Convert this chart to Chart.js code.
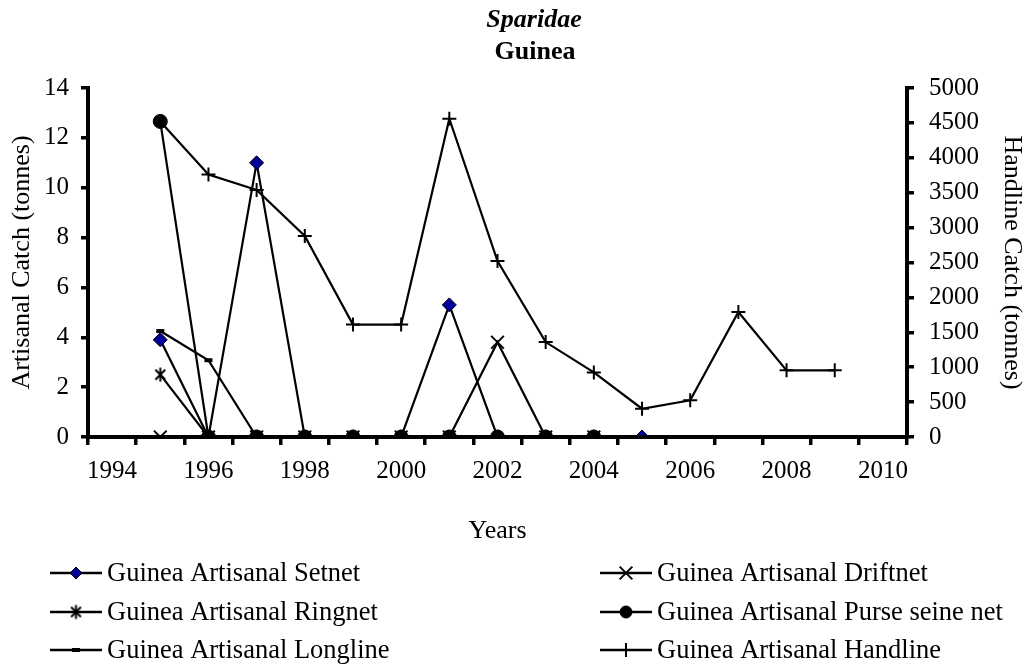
<!DOCTYPE html>
<html>
<head>
<meta charset="utf-8">
<script src="https://cdn.jsdelivr.net/npm/chart.js@4/dist/chart.umd.min.js"></script>
<style>
html,body{margin:0;padding:0;background:#fff;}
#wrap{width:1025px;height:669px;position:relative;}
</style>
</head>
<body>
<div id="wrap"><canvas id="c"></canvas></div>
<script>
const years = ['1994','1995','1996','1997','1998','1999','2000','2001','2002','2003','2004','2005','2006','2007','2008','2009','2010'];
const setnet   = [null, 3.9, 0, 11.0, 0, 0, 0, 5.3, 0, 0, 0, 0, null, null, null, null, null];
const driftnet = [null, 0, 0, 0, 0, 0, 0, 0, 3.8, 0, 0, null, null, null, null, null, null];
const ringnet  = [null, 2.5, 0, 0, 0, 0, 0, 0, 0, 0, 0, null, null, null, null, null, null];
const purseSeine = [null, 12.66, 0, 0, 0, 0, 0, 0, 0, 0, 0, null, null, null, null, null, null];
const longline = [null, 4.25, 3.08, 0, 0, 0, 0, 0, 0, 0, 0, 0, 0, 0, 0, 0, null];
const handline = [null, 4520, 3760, 3540, 2880, 1610, 1610, 4560, 2520, 1360, 925, 405, 525, 1790, 955, 955, null];
const leftTicks = [0, 2, 4, 6, 8, 10, 12, 14];
const rightTicks = [0, 500, 1000, 1500, 2000, 2500, 3000, 3500, 4000, 4500, 5000];
const seriesNames = ['Guinea Artisanal Setnet','Guinea Artisanal Driftnet','Guinea Artisanal Ringnet','Guinea Artisanal Purse seine net','Guinea Artisanal Longline','Guinea Artisanal Handline'];
const chartTitle = 'Sparidae';
const chartSubtitle = 'Guinea';

const FONT = 'Liberation Serif';

function makeAsterisk(){
  const c = document.createElement('canvas');
  c.width = 17; c.height = 17;
  const g = c.getContext('2d');
  g.strokeStyle = '#000'; g.lineWidth = 2;
  const cx = 8.5, cy = 8.5, r = 7;
  g.beginPath();
  g.moveTo(cx, cy - r); g.lineTo(cx, cy + r);
  const d = r * Math.cos(Math.PI/4);
  g.moveTo(cx - d, cy - d); g.lineTo(cx + d, cy + d);
  g.moveTo(cx - d, cy + d); g.lineTo(cx + d, cy - d);
  g.stroke();
  return c;
}
const asterisk = makeAsterisk();

function ds(label, data, extra){
  return Object.assign({
    label: label, data: data, borderColor: '#000', backgroundColor: '#000',
    borderWidth: 2.2, pointBorderColor: '#000', pointBackgroundColor: '#000',
    pointBorderWidth: 2, pointRadius: 7, pointHoverRadius: 7, tension: 0,
    yAxisID: 'y', spanGaps: false
  }, extra);
}

const datasets = [
  ds(seriesNames[0], setnet, {pointStyle: 'rectRot', pointRadius: 7, pointBackgroundColor: '#000099', pointBorderWidth: 1, order: 6}),
  ds(seriesNames[1], driftnet, {pointStyle: 'crossRot', pointRadius: 9, pointBorderWidth: 2, order: 5}),
  ds(seriesNames[2], ringnet, {pointStyle: asterisk, order: 4}),
  ds(seriesNames[3], purseSeine, {pointStyle: 'circle', pointRadius: 7, pointBorderWidth: 1, order: 3}),
  ds(seriesNames[4], longline, {pointStyle: 'line', pointRadius: 4, pointBorderWidth: 4, order: 2}),
  ds(seriesNames[5], handline, {pointStyle: 'cross', pointRadius: 7, pointBorderWidth: 2, order: 1, yAxisID: 'y1'})
];

const titlePlugin = {
  id: 'customTitle',
  afterDraw(chart){
    const ctx = chart.ctx;
    ctx.save();
    ctx.fillStyle = '#000';
    ctx.textAlign = 'center';
    ctx.textBaseline = 'middle';
    ctx.font = 'italic bold 26px "' + FONT + '"';
    ctx.fillText(chartTitle, 534, 20);
    ctx.font = 'bold 26px "' + FONT + '"';
    ctx.fillText(chartSubtitle, 535, 52);
    ctx.restore();
  }
};

const legendPlugin = {
  id: 'customLegend',
  afterDraw(chart){
    const ctx = chart.ctx;
    const colX = [50, 600];
    const rowY = [573, 612, 650];
    chart.data.datasets.forEach((d, i) => {
      const sx = colX[i % 2];
      const y = rowY[Math.floor(i / 2)];
      ctx.save();
      ctx.strokeStyle = '#000';
      ctx.lineWidth = 2.5;
      ctx.beginPath(); ctx.moveTo(sx, y); ctx.lineTo(sx + 52, y); ctx.stroke();
      ctx.fillStyle = d.pointBackgroundColor;
      ctx.strokeStyle = d.pointBorderColor;
      ctx.lineWidth = d.pointBorderWidth;
      let r = d.pointRadius;
      if (d.pointStyle === 'rectRot') r = 6;
      if (d.pointStyle === 'circle') r = 6;
      if (Chart.helpers && Chart.helpers.drawPoint) {
        Chart.helpers.drawPoint(ctx, {pointStyle: d.pointStyle, rotation: 0, radius: r, borderWidth: d.pointBorderWidth}, sx + 26, y);
      }
      ctx.fillStyle = '#000';
      ctx.font = '26.5px "' + FONT + '"';
      ctx.textBaseline = 'middle';
      ctx.textAlign = 'left';
      ctx.fillText(d.label, sx + 57, y + 1);
      ctx.restore();
    });
  }
};

const tickFont = {family: FONT, size: 25};
const axisTitleFont = {family: FONT, size: 26, lineHeight: 1};

new Chart(document.getElementById('c'), {
  type: 'line',
  data: {labels: years, datasets: datasets},
  plugins: [titlePlugin, legendPlugin],
  options: {
    responsive: true, maintainAspectRatio: false, animation: false,
    devicePixelRatio: 1,
    layout: {padding: {top: 88, left: 0, right: 0, bottom: 0}},
    events: [],
    plugins: {
      legend: {display: false},
      tooltip: {enabled: false},
      title: {display: false},
      subtitle: {display: false}
    },
    scales: {
      x: {
        type: 'category', offset: true,
        grid: {offset: true, drawOnChartArea: false, drawTicks: true, tickLength: 8, lineWidth: 3.5, color: '#000'},
        border: {display: true, width: 4, color: '#000'},
        ticks: {autoSkip: false, maxRotation: 0, minRotation: 0, color: '#000', font: tickFont, padding: 11,
          callback: function(v, i){ return i % 2 === 0 ? this.getLabelForValue(v) : ''; }},
        title: {display: true, text: 'Years', color: '#000', font: axisTitleFont, padding: {top: 0, bottom: 125}},
        afterFit(s){ s.height = 232; }
      },
      y: {
        position: 'left', min: 0, max: 14,
        afterBuildTicks(s){ s.ticks = leftTicks.map(v => ({value: v})); },
        grid: {drawOnChartArea: false, drawTicks: true, tickLength: 7, lineWidth: 3.5, color: '#000'},
        border: {display: true, width: 4, color: '#000'},
        ticks: {color: '#000', font: tickFont, padding: 12},
        title: {display: true, text: 'Artisanal Catch (tonnes)', color: '#000', font: axisTitleFont, padding: {top: 9, bottom: 0}},
        afterFit(s){ s.width = 88; }
      },
      y1: {
        position: 'right', min: 0, max: 5000,
        afterBuildTicks(s){ s.ticks = rightTicks.map(v => ({value: v})); },
        grid: {drawOnChartArea: false, drawTicks: true, tickLength: 7, lineWidth: 3.5, color: '#000'},
        border: {display: true, width: 4, color: '#000'},
        ticks: {color: '#000', font: tickFont, padding: 15, callback: v => String(v)},
        title: {display: true, text: 'Handline Catch (tonnes)', color: '#000', font: axisTitleFont, padding: {top: 0, bottom: 0}},
        afterFit(s){ s.width = 118; }
      }
    }
  }
});
</script>
</body>
</html>
